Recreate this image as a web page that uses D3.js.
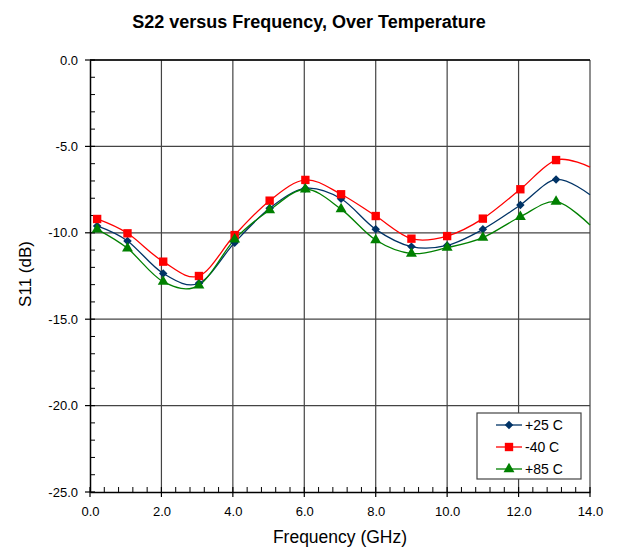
<!DOCTYPE html>
<html><head><meta charset="utf-8">
<script src="https://cdn.jsdelivr.net/npm/d3@7"></script>
<style>body{margin:0;background:#fff;font-family:"Liberation Sans",Arial,sans-serif;}</style>
</head><body><svg id="c" width="618" height="548"></svg>
<script>
const freqs = [0.2, 1.05, 2.05, 3.05, 4.05, 5.03, 6.03, 7.03, 8.0, 9.0, 10.0, 11.0, 12.05, 13.05, 14.0];
const s25 = [-9.6, -10.47, -12.35, -12.92, -10.57, -8.58, -7.43, -8.03, -9.8, -10.8, -10.73, -9.8, -8.39, -6.91, -7.8];
const sM40 = [-9.2, -10.03, -11.67, -12.5, -10.13, -8.14, -6.94, -7.77, -9.03, -10.34, -10.19, -9.18, -7.48, -5.79, -6.2];
const s85 = [-9.8, -10.9, -12.83, -13.04, -10.38, -8.68, -7.48, -8.63, -10.42, -11.2, -10.86, -10.28, -9.07, -8.2, -9.55];
const seriesNames = ["+25 C", "-40 C", "+85 C"];
const xTicks = [0, 2, 4, 6, 8, 10, 12, 14];
const yTicks = [0, -5, -10, -15, -20, -25];

const series = [
  {name: seriesNames[0], vals: s25, color: "#003366", sym: d3.symbolSquare, size: 36, rot: 45},
  {name: seriesNames[1], vals: sM40, color: "#FF0000", sym: d3.symbolSquare, size: 70, rot: 0},
  {name: seriesNames[2], vals: s85, color: "#008000", sym: d3.symbolTriangle, size: 52, rot: 0}
];

const fmt = d => d.toFixed(1);
const svg = d3.select("#c");
const x = d3.scaleLinear().domain([0, 14]).range([90, 590]);
const y = d3.scaleLinear().domain([-25, 0]).range([492, 60]);

// grid
svg.append("g").selectAll("line").data(xTicks.slice(1)).join("line")
  .attr("x1", d => x(d)).attr("x2", d => x(d)).attr("y1", 60).attr("y2", 492)
  .attr("stroke", "#444").attr("stroke-width", 1.2);
svg.append("g").selectAll("line").data(yTicks.slice(0, -1)).join("line")
  .attr("x1", 90).attr("x2", 590).attr("y1", d => y(d)).attr("y2", d => y(d))
  .attr("stroke", "#444").attr("stroke-width", 1.2);

// axes
const xAxis = svg.append("g").attr("transform", "translate(0,492)")
  .call(d3.axisBottom(x).tickValues(xTicks).tickFormat(fmt).tickSize(0).tickPadding(15));
xAxis.select(".domain").attr("stroke", "#000").attr("stroke-width", 1.5);
xAxis.selectAll("text").attr("font-size", 13).attr("font-family", "Liberation Sans, Arial, sans-serif").attr("fill", "#000");
const yAxis = svg.append("g").attr("transform", "translate(90,0)")
  .call(d3.axisLeft(y).tickValues(yTicks).tickFormat(fmt).tickSize(0).tickPadding(12));
yAxis.select(".domain").attr("stroke", "#000").attr("stroke-width", 1.5);
yAxis.selectAll("text").attr("font-size", 13).attr("font-family", "Liberation Sans, Arial, sans-serif").attr("fill", "#000");

// major ticks crossing axes
svg.append("g").selectAll("line").data(xTicks).join("line")
  .attr("x1", d => x(d)).attr("x2", d => x(d)).attr("y1", 487).attr("y2", 497)
  .attr("stroke", "#000").attr("stroke-width", 1.2);
svg.append("g").selectAll("line").data(yTicks).join("line")
  .attr("x1", 85).attr("x2", 95).attr("y1", d => y(d)).attr("y2", d => y(d))
  .attr("stroke", "#000").attr("stroke-width", 1.2);
// minor ticks
const xMinor = d3.range(0, 14.001, 0.4).filter(v => Math.abs(v / 2 - Math.round(v / 2)) > 1e-6);
svg.append("g").selectAll("line").data(xMinor).join("line")
  .attr("x1", d => x(d)).attr("x2", d => x(d)).attr("y1", 487).attr("y2", 492)
  .attr("stroke", "#000").attr("stroke-width", 1);
const yMinor = d3.range(-25, 0.001, 1).filter(v => v % 5 !== 0);
svg.append("g").selectAll("line").data(yMinor).join("line")
  .attr("x1", 90).attr("x2", 95).attr("y1", d => y(d)).attr("y2", d => y(d))
  .attr("stroke", "#000").attr("stroke-width", 1);
// top border
svg.append("line").attr("x1", 90).attr("x2", 590).attr("y1", 60).attr("y2", 60)
  .attr("stroke", "#000").attr("stroke-width", 1.5);

// series
const line = d3.line().x(d => x(d[0])).y(d => y(d[1])).curve(d3.curveCardinal.tension(0));
const plot = svg.append("g");
series.forEach(s => {
  const pts = freqs.map((f, i) => [f, s.vals[i]]);
  plot.append("path").attr("d", line(pts)).attr("fill", "none")
    .attr("stroke", s.color).attr("stroke-width", 1.3);
});
series.forEach(s => {
  const pts = freqs.map((f, i) => [f, s.vals[i]]).slice(0, freqs.length - 1);
  plot.append("g").selectAll("path").data(pts).join("path")
    .attr("d", d3.symbol().type(s.sym).size(s.size))
    .attr("transform", d => `translate(${x(d[0])},${y(d[1])}) rotate(${s.rot})`)
    .attr("fill", s.color);
});

// legend
const lg = svg.append("g");
lg.append("rect").attr("x", 477).attr("y", 413).attr("width", 104).attr("height", 66)
  .attr("fill", "#fff").attr("stroke", "#444").attr("stroke-width", 1.2);
series.forEach((s, i) => {
  const yy = 425 + i * 22;
  lg.append("line").attr("x1", 496).attr("x2", 522).attr("y1", yy).attr("y2", yy)
    .attr("stroke", s.color).attr("stroke-width", 1.3);
  lg.append("path").attr("d", d3.symbol().type(s.sym).size(s.size))
    .attr("transform", `translate(509,${yy}) rotate(${s.rot})`).attr("fill", s.color);
  lg.append("text").attr("x", 525).attr("y", yy + 5).text(s.name)
    .attr("font-size", 14).attr("fill", "#000");
});

// titles
svg.append("text").attr("x", 309).attr("y", 28).attr("text-anchor", "middle")
  .attr("font-size", 18).attr("font-weight", "bold").text("S22 versus Frequency, Over Temperature");
svg.append("text").attr("x", 340).attr("y", 543).attr("text-anchor", "middle")
  .attr("font-size", 17.5).text("Frequency (GHz)");
svg.append("text").attr("transform", "translate(31,274) rotate(-90)").attr("text-anchor", "middle")
  .attr("font-size", 17).text("S11 (dB)");
</script></body></html>
